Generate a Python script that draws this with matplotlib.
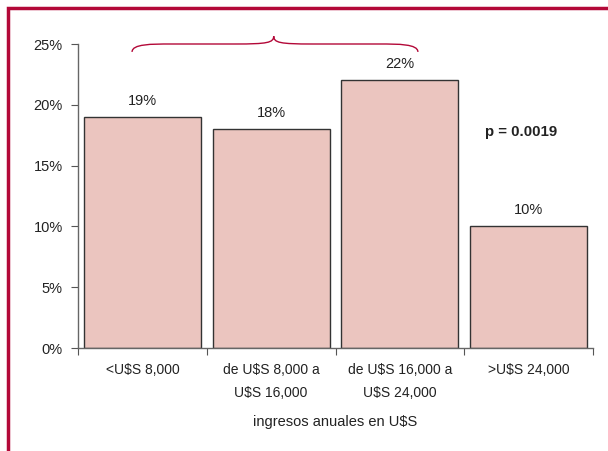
import matplotlib
matplotlib.use("Agg")
import matplotlib.pyplot as plt
import numpy as np
from matplotlib.patches import Rectangle
from matplotlib.path import Path
from matplotlib.patches import PathPatch

plt.rcParams['font.family'] = ['Liberation Sans', 'DejaVu Sans']

categories = ["<U$S 8,000", "de U$S 8,000 a\nU$S 16,000", "de U$S 16,000 a\nU$S 24,000", ">U$S 24,000"]
values = [19, 18, 22, 10]
value_labels = ["19%", "18%", "22%", "10%"]
yticks = [0, 5, 10, 15, 20, 25]
ytick_labels = ["0%", "5%", "10%", "15%", "20%", "25%"]
xlabel = "ingresos anuales en U$S"
ptext = "p = 0.0019"

fig = plt.figure(figsize=(6.08, 4.51), dpi=100)
ax = fig.add_axes([78/608, 1-348/451, (593-78)/608, (348-44)/451])

x = np.arange(len(categories))
ax.bar(x, values, width=0.907, color="#EBC5BF", edgecolor="#333333", linewidth=1.0, zorder=2)
for xi, v, lab in zip(x, values, value_labels):
    ax.text(xi, v + 1.35, lab, ha="center", va="center", fontsize=10.5, color="#222222")

ax.set_xlim(-0.5, 3.5)
ax.set_ylim(0, 25)
ax.set_yticks(yticks)
ax.set_yticklabels(ytick_labels, fontsize=10.5, color="#222222")
ax.set_xticks([-0.5, 0.5, 1.5, 2.5, 3.5])
ax.set_xticklabels([])
ax.set_xticks(x, minor=True)
ax.set_xticklabels(categories, minor=True, fontsize=10, color="#222222", linespacing=1.75)
ax.tick_params(axis="x", which="minor", length=0, pad=11)
ax.tick_params(axis="x", which="major", length=5, direction="out", color="#555555")
ax.tick_params(axis="y", length=5, direction="out", color="#555555", pad=6)
for s in ["top", "right"]:
    ax.spines[s].set_visible(False)
for s in ["left", "bottom"]:
    ax.spines[s].set_color("#666666")
    ax.spines[s].set_linewidth(1.0)
ax.set_xlabel(xlabel, fontsize=10.5, color="#222222", labelpad=11)

ax.text(2.94, 17.75, ptext, ha="center", va="center", fontsize=10.8, fontweight="bold", color="#222222")

# curly bracket
red = "#B30838"
x0, x1, xm = -0.08, 2.14, 1.02
yb, yt, yp = 24.35, 25.0, 25.65
verts = [(x0, yb), (x0, yt), (x0 + 0.15, yt), (x0 + 0.3, yt),
         (xm - 0.3, yt),
         (xm - 0.05, yt), (xm, yt + 0.1), (xm, yp),
         (xm, yt + 0.1), (xm + 0.05, yt), (xm + 0.3, yt),
         (x1 - 0.3, yt),
         (x1 - 0.15, yt), (x1, yt), (x1, yb)]
codes = [Path.MOVETO, Path.CURVE4, Path.CURVE4, Path.CURVE4,
         Path.LINETO,
         Path.CURVE4, Path.CURVE4, Path.CURVE4,
         Path.CURVE4, Path.CURVE4, Path.CURVE4,
         Path.LINETO,
         Path.CURVE4, Path.CURVE4, Path.CURVE4]
ax.add_patch(PathPatch(Path(verts, codes), fill=False, edgecolor=red, linewidth=1.0, clip_on=False))

# figure border
fig.patches.append(Rectangle((8/608, -0.1), 1.2, 1 - 8/451 + 0.1, transform=fig.transFigure,
                             fill=False, edgecolor=red, linewidth=2.5, figure=fig))

fig.savefig("out.png", dpi=100)
